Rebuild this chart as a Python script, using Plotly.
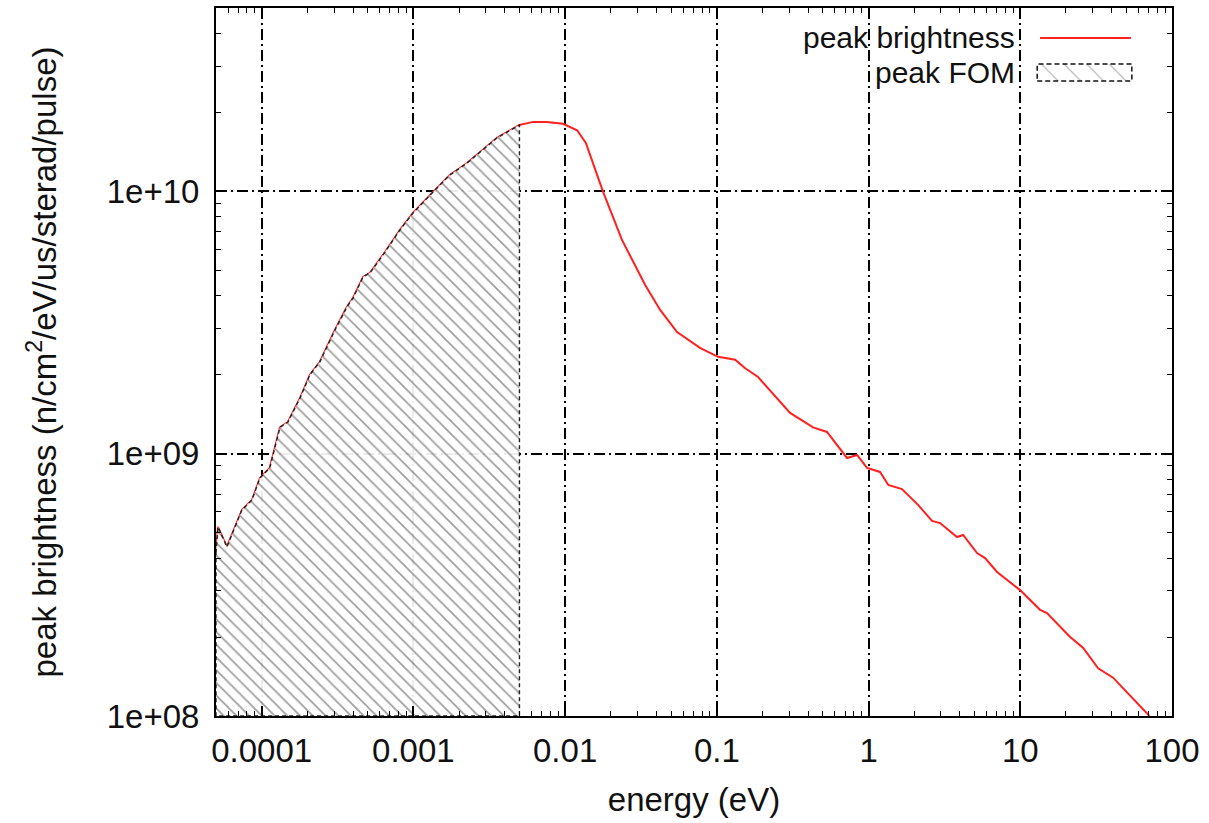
import numpy as np
import plotly.graph_objects as go

# Peak brightness spectrum (energy in eV, brightness in n/cm^2/eV/us/sterad/pulse)
energy = [
    5.0e-5, 5.15e-5, 5.9e-5, 7.41e-5, 8.63e-5, 9.74e-5, 1.13e-4, 1.32e-4, 1.49e-4,
    1.79e-4, 2.08e-4, 2.42e-4, 3.04e-4, 3.65e-4, 4.0e-4, 4.66e-4, 5.18e-4, 6.5e-4,
    8.16e-4, 9.94e-4, 1.35e-3, 1.74e-3, 2.25e-3, 2.75e-3, 3.56e-3, 5.0e-3,
    6.14e-3, 7.6e-3, 9.68e-3, 1.2e-2, 1.37e-2, 1.78e-2, 2.37e-2, 3.37e-2, 4.23e-2,
    5.47e-2, 7.74e-2, 0.102, 0.132, 0.153, 0.187, 0.304, 0.431, 0.532, 0.721,
    0.84, 0.977, 1.19, 1.35, 1.66, 2.12, 2.62, 2.96, 3.83, 4.2, 5.19, 5.86, 7.03,
    9.97, 13.5, 15.0, 21.3, 25.9, 32.6, 40.9, 71.0,
]
brightness = [
    4.18e8, 5.26e8, 4.41e8, 6.10e8, 6.66e8, 8.08e8, 8.82e8, 1.26e9, 1.32e9,
    1.63e9, 2.00e9, 2.24e9, 2.96e9, 3.63e9, 3.92e9, 4.72e9, 4.89e9, 5.87e9,
    7.13e9, 8.27e9, 9.95e9, 1.155e10, 1.28e10, 1.41e10, 1.60e10, 1.79e10,
    1.84e10, 1.84e10, 1.81e10, 1.71e10, 1.53e10, 9.95e9, 6.53e9, 4.40e9, 3.53e9,
    2.91e9, 2.53e9, 2.34e9, 2.28e9, 2.12e9, 1.96e9, 1.43e9, 1.26e9, 1.21e9, 9.63e8,
    9.89e8, 8.82e8, 8.52e8, 7.60e8, 7.33e8, 6.38e8, 5.54e8, 5.44e8, 4.81e8, 4.90e8,
    4.18e8, 4.00e8, 3.54e8, 3.02e8, 2.54e8, 2.47e8, 2.00e8, 1.82e8, 1.52e8, 1.40e8,
    1.0e8,
]

# Figure-of-merit band: integrate brightness up to this energy
fom_end = 5.0e-3

x_range = [5e-5, 100]
y_range = [1e8, 5e10]

x_tickvals = [1e-4, 1e-3, 1e-2, 1e-1, 1, 10, 100]
x_ticktext = ["0.0001", "0.001", "0.01", "0.1", "1", "10", "100"]
y_tickvals = [1e8, 1e9, 1e10]
y_ticktext = ["1e+08", "1e+09", "1e+10"]

FONT = "Liberation Sans, Arial, sans-serif"
TXT = "#111111"
FS = 33

# polygon for the hatched FOM area (curve, then down to the axis floor)
fom_x = [e for e in energy if e <= fom_end]
fom_y = [b for e, b in zip(energy, brightness) if e <= fom_end]
poly_x = fom_x + [fom_end, fom_x[0], fom_x[0]]
poly_y = fom_y + [y_range[0], y_range[0], fom_y[0]]

fig = go.Figure()

fig.add_trace(go.Scatter(
    x=energy, y=brightness, mode="lines",
    line=dict(color="#ff2020", width=2),
    name="peak brightness", showlegend=False,
))

fig.add_trace(go.Scatter(
    x=poly_x, y=poly_y, mode="lines", fill="toself",
    fillcolor="rgba(0,0,0,0)",
    fillpattern=dict(shape="\\", size=9, solidity=0.18,
                     fgcolor="#3a3a3a", bgcolor="rgba(255,255,255,0.92)"),
    line=dict(color="#222222", width=1.4, dash="4px,3px"),
    name="peak FOM", showlegend=False,
))

# key sample for the FOM band, drawn on an overlay axis in unit coordinates
key_x = [0.859, 0.958, 0.958, 0.859, 0.859]
key_y = [0.897, 0.897, 0.921, 0.921, 0.897]
fig.add_trace(go.Scatter(
    x=key_x, y=key_y, xaxis="x2", yaxis="y2", mode="lines", fill="toself",
    fillcolor="rgba(0,0,0,0)",
    fillpattern=dict(shape="\\", size=16, solidity=0.08,
                     fgcolor="#777777", bgcolor="white"),
    line=dict(color="#111111", width=1.5, dash="5px,3px"),
    showlegend=False, hoverinfo="skip",
))

grid_dash = "11px,4px,2px,4px"
axis_common = dict(
    showline=True, linecolor="black", linewidth=2, mirror="allticks",
    ticks="inside", ticklen=10, tickwidth=1.5, tickcolor="black",
    showgrid=True, gridcolor="black", gridwidth=1.5, griddash=grid_dash,
    zeroline=False,
    tickfont=dict(family=FONT, size=FS, color=TXT),
    minor=dict(ticks="inside", ticklen=5, tickwidth=1.2, tickcolor="black",
               dtick="D1", showgrid=False),
)

fig.update_layout(
    width=1209, height=823,
    margin=dict(l=216, r=37, t=6, b=107),
    paper_bgcolor="white", plot_bgcolor="white",
    showlegend=False,
    xaxis=dict(
        type="log", range=[np.log10(x_range[0]), np.log10(x_range[1])],
        tickvals=x_tickvals, ticktext=x_ticktext,
        title=dict(text="energy (eV)", font=dict(family=FONT, size=FS, color=TXT),
                   standoff=20),
        ticklabelstandoff=4,
        **axis_common,
    ),
    yaxis=dict(
        type="log", range=[np.log10(y_range[0]), np.log10(y_range[1])],
        tickvals=y_tickvals, ticktext=y_ticktext,
        title=dict(text="peak brightness (n/cm<sup>2</sup>/eV/us/sterad/pulse)",
                   font=dict(family=FONT, size=FS, color=TXT), standoff=40),
        ticklabelstandoff=8,
        **axis_common,
    ),
    xaxis2=dict(overlaying="x", range=[0, 1], visible=False, fixedrange=True),
    yaxis2=dict(overlaying="y", range=[0, 1], visible=False, fixedrange=True),
)

# blank the grid behind the key
fig.add_shape(type="rect", xref="paper", yref="paper", x0=0.45, x1=0.995,
              y0=0.885, y1=0.997, fillcolor="white", line_width=0, layer="between")

# key: red line sample and labels
fig.add_shape(type="line", xref="paper", yref="paper", x0=0.862, x1=0.957,
              y0=0.9575, y1=0.9575, line=dict(color="#ff2020", width=2))
for label, ypos in [("peak brightness", 0.9585), ("peak FOM", 0.9095)]:
    fig.add_annotation(text=label, xref="paper", yref="paper", x=0.838, y=ypos,
                       xanchor="right", yanchor="middle", showarrow=False,
                       font=dict(family=FONT, size=30, color=TXT))

fig.write_html("out.html")
